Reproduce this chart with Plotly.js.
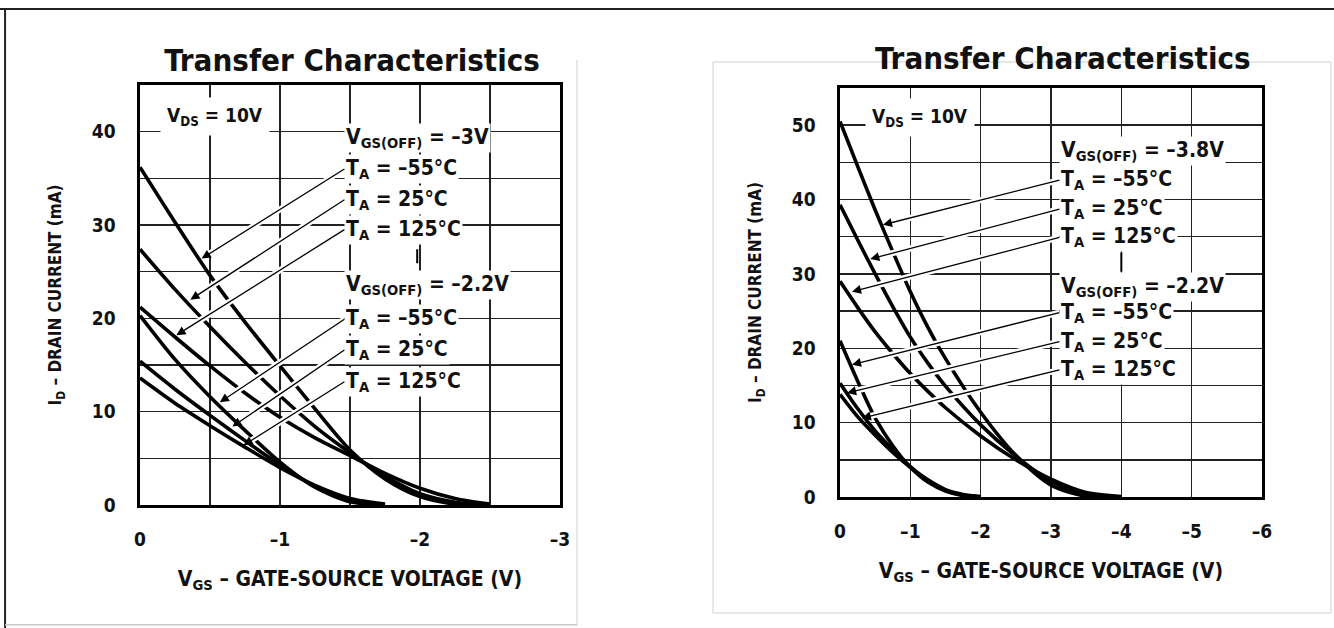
<!DOCTYPE html>
<html><head><meta charset="utf-8">
<script src="https://cdn.plot.ly/plotly-3.0.1.min.js"></script>
<style>html,body{margin:0;padding:0;background:#fff;} #chart{width:1334px;height:628px;}</style>
</head><body><div id="chart"></div>
<script>
// ---------- Left chart data (VGS in V, ID in mA) ----------
const vgsLeft3 = [0, -0.25, -0.5, -0.75, -1, -1.25, -1.5, -1.75, -2, -2.25, -2.5];
const idLeft3_m55 = [36.2, 30.3, 24.6, 19.6, 14.9, 10.3, 5.9, 2.8, 0.9, 0.1, 0];
const idLeft3_25  = [27.4, 23.1, 19.1, 15.3, 11.7, 8.4, 5.6, 3.1, 1.2, 0.3, 0];
const idLeft3_125 = [21.2, 18.0, 14.9, 12.0, 9.4, 7.2, 5.3, 3.4, 1.8, 0.7, 0.1];
const vgsLeft22 = [0, -0.25, -0.5, -0.75, -1, -1.25, -1.5, -1.75];
const idLeft22_m55 = [20.3, 15.6, 11.6, 8.0, 4.6, 1.9, 0.35, 0];
const idLeft22_25  = [15.4, 12.4, 9.6, 6.9, 4.3, 2.0, 0.5, 0.02];
const idLeft22_125 = [13.6, 10.9, 8.5, 6.2, 4.0, 2.1, 0.7, 0.1];

// ---------- Right chart data ----------
const vgsRight38 = [0, -0.25, -0.5, -0.75, -1, -1.25, -1.5, -2, -2.5, -3, -3.5, -4];
const idRight38_m55 = [50.5, 44.5, 38.6, 33.0, 27.6, 22.8, 18.6, 11.4, 5.6, 1.6, 0.1, 0];
const idRight38_25  = [39.3, 34.6, 30.0, 25.6, 21.5, 18.0, 14.9, 9.7, 5.5, 2.1, 0.3, 0];
const idRight38_125 = [29.0, 25.5, 22.2, 19.3, 16.6, 14.2, 12.0, 8.2, 5.0, 2.4, 0.6, 0.05];
const vgsRight22 = [0, -0.25, -0.5, -0.75, -1, -1.25, -1.5, -1.75, -2];
const idRight22_m55 = [21.0, 15.6, 10.6, 6.9, 4.0, 2.0, 0.8, 0.2, 0];
const idRight22_25  = [15.3, 11.9, 8.9, 6.4, 4.1, 2.2, 0.9, 0.25, 0];
const idRight22_125 = [13.8, 10.8, 8.3, 6.0, 4.0, 2.3, 1.0, 0.35, 0.05];

// ---------- Tick labels ----------
const leftXTickVals = [0, -1, -2, -3];
const leftXTickText = ['0', '–1', '–2', '–3'];
const rightXTickVals = [0, -1, -2, -3, -4, -5, -6];
const rightXTickText = ['0', '–1', '–2', '–3', '–4', '–5', '–6'];
const leftYTickVals = [0, 10, 20, 30, 40];
const leftYTickText = ['0', '10', '20', '30', '40'];
const rightYTickVals = [0, 10, 20, 30, 40, 50];
const rightYTickText = ['0', '10', '20', '30', '40', '50'];

const chartTitle = 'Transfer Characteristics';
const xTitle = 'V<sub>GS</sub> – GATE-SOURCE VOLTAGE (V)';
const yTitle = 'I<sub>D</sub> – DRAIN CURRENT (mA)';
const vdsLabel = 'V<sub>DS</sub> = 10V';
const tempLabels = ['T<sub>A</sub> = –55°C', 'T<sub>A</sub> = 25°C', 'T<sub>A</sub> = 125°C'];
const leftOffLabels = ['V<sub>GS(OFF)</sub> = –3V', 'V<sub>GS(OFF)</sub> = –2.2V'];
const rightOffLabels = ['V<sub>GS(OFF)</sub> = –3.8V', 'V<sub>GS(OFF)</sub> = –2.2V'];

const F = '"Liberation Sans Narrow", "DejaVu Sans Condensed", "Arial Narrow", sans-serif';
const INK = '#111';

function curve(x, y, xa, ya, name) {
  return {x: x, y: y, xaxis: xa, yaxis: ya, type: 'scatter', mode: 'lines', name: name,
    line: {color: '#000', width: 3.6, shape: 'spline', smoothing: 0.8}, hoverinfo: 'skip'};
}

const traces = [
  curve(vgsLeft3, idLeft3_m55, 'x', 'y', 'VGS(OFF)=-3V, TA=-55°C'),
  curve(vgsLeft3, idLeft3_25, 'x', 'y', 'VGS(OFF)=-3V, TA=25°C'),
  curve(vgsLeft3, idLeft3_125, 'x', 'y', 'VGS(OFF)=-3V, TA=125°C'),
  curve(vgsLeft22, idLeft22_m55, 'x', 'y', 'VGS(OFF)=-2.2V, TA=-55°C'),
  curve(vgsLeft22, idLeft22_25, 'x', 'y', 'VGS(OFF)=-2.2V, TA=25°C'),
  curve(vgsLeft22, idLeft22_125, 'x', 'y', 'VGS(OFF)=-2.2V, TA=125°C'),
  curve(vgsRight38, idRight38_m55, 'x2', 'y2', 'VGS(OFF)=-3.8V, TA=-55°C'),
  curve(vgsRight38, idRight38_25, 'x2', 'y2', 'VGS(OFF)=-3.8V, TA=25°C'),
  curve(vgsRight38, idRight38_125, 'x2', 'y2', 'VGS(OFF)=-3.8V, TA=125°C'),
  curve(vgsRight22, idRight22_m55, 'x2', 'y2', 'VGS(OFF)=-2.2V, TA=-55°C'),
  curve(vgsRight22, idRight22_25, 'x2', 'y2', 'VGS(OFF)=-2.2V, TA=25°C'),
  curve(vgsRight22, idRight22_125, 'x2', 'y2', 'VGS(OFF)=-2.2V, TA=125°C')
];

const gridStyle = {showgrid: true, gridcolor: '#222', gridwidth: 1.4};
function xAxis(domain, anchor, range, vals, text, minorStep) {
  return {domain: domain, anchor: anchor, range: range, tickvals: vals, ticktext: text,
    showgrid: true, gridcolor: '#222', gridwidth: 1.4, zeroline: false,
    minor: minorStep ? Object.assign({dtick: minorStep, tick0: 0, ticks: ''}, gridStyle) : undefined,
    showline: true, mirror: true, linecolor: '#000', linewidth: 2.6, ticks: '',
    ticklabelstandoff: 16, tickfont: {family: F, size: 19, color: INK, weight: 'bold'},
    title: {text: '<b>' + xTitle + '</b>', font: {family: F, size: 21, color: INK}, standoff: 22},
    fixedrange: true};
}
function yAxis(domain, anchor, range, vals, text) {
  return {domain: domain, anchor: anchor, range: range, tickvals: vals, ticktext: text,
    showgrid: true, gridcolor: '#222', gridwidth: 1.4, zeroline: false,
    minor: Object.assign({dtick: 5, tick0: 0, ticks: ''}, gridStyle),
    showline: true, mirror: true, linecolor: '#000', linewidth: 2.6, ticks: '',
    ticklabelstandoff: 18, tickfont: {family: F, size: 19, color: INK, weight: 'bold'},
    title: {text: '<b>' + yTitle + '</b>', font: {family: F, size: 17, color: INK}, standoff: 26},
    fixedrange: true};
}

// pixel scale of each subplot, used only to shorten the white halo under each arrow
const pxPer = {x: [140, 9.333], x2: [70.3, 7.42]};

const ann = [];
const shapes = [];
function label(xr, yr, x, y, text, size, pad) {
  ann.push({xref: xr, yref: yr, x: x, y: y, text: '<b>' + text + '</b>', showarrow: false,
    xanchor: 'left', yanchor: 'middle', bgcolor: '#fff', borderpad: pad || 1,
    font: {family: F, size: size || 21, color: INK}});
}
// label with an arrow from its left edge to a point on a curve
function arrowLabel(xr, yr, tx, ty, hx, hy, text) {
  const s = pxPer[xr];
  const dxp = (hx - tx) * s[0], dyp = (hy - ty) * s[1];
  const len = Math.sqrt(dxp * dxp + dyp * dyp);
  const f = 1 - 9 / len;
  shapes.push({type: 'line', xref: xr, yref: yr, layer: 'above', x0: tx, y0: ty,
    x1: tx + (hx - tx) * f, y1: ty + (hy - ty) * f, line: {color: '#fff', width: 6}});
  ann.push({xref: xr, yref: yr, axref: xr, ayref: yr, x: hx, y: hy, ax: tx, ay: ty,
    text: '<b>' + text + '</b>', showarrow: true, arrowhead: 2, arrowsize: 1.4, arrowwidth: 1.3,
    arrowcolor: '#000', standoff: 0, xanchor: 'left', yanchor: 'middle', bgcolor: '#fff', borderpad: 1,
    font: {family: F, size: 21, color: INK}});
}

// Left chart annotations
label('x', 'y', -0.14, 41.6, vdsLabel, 19, 6);
label('x', 'y', -1.46, 39.3, leftOffLabels[0]);
arrowLabel('x', 'y', -1.46, 36.0, -0.44, 26.4, tempLabels[0]);
arrowLabel('x', 'y', -1.46, 32.7, -0.36, 22.0, tempLabels[1]);
arrowLabel('x', 'y', -1.46, 29.5, -0.26, 18.2, tempLabels[2]);
label('x', 'y', -1.46, 23.6, leftOffLabels[1]);
arrowLabel('x', 'y', -1.46, 19.9, -0.57, 11.0, tempLabels[0]);
arrowLabel('x', 'y', -1.46, 16.6, -0.66, 8.4, tempLabels[1]);
arrowLabel('x', 'y', -1.46, 13.2, -0.74, 6.4, tempLabels[2]);

// Right chart annotations
label('x2', 'y2', -0.36, 51.0, vdsLabel, 19, 6);
label('x2', 'y2', -3.12, 46.5, rightOffLabels[0]);
arrowLabel('x2', 'y2', -3.12, 42.6, -0.61, 36.6, tempLabels[0]);
arrowLabel('x2', 'y2', -3.12, 38.7, -0.43, 32.0, tempLabels[1]);
arrowLabel('x2', 'y2', -3.12, 34.9, -0.17, 27.6, tempLabels[2]);
label('x2', 'y2', -3.12, 28.3, rightOffLabels[1]);
arrowLabel('x2', 'y2', -3.12, 24.8, -0.17, 17.8, tempLabels[0]);
arrowLabel('x2', 'y2', -3.12, 20.9, -0.10, 14.0, tempLabels[1]);
arrowLabel('x2', 'y2', -3.12, 17.1, -0.31, 10.6, tempLabels[2]);

// Right-chart title
ann.push({xref: 'paper', yref: 'paper', x: 0.7969, y: 0.9076, xanchor: 'center', yanchor: 'middle',
  text: '<b>' + chartTitle + '</b>', showarrow: false, font: {family: F, size: 31, color: INK}});

shapes.push(
  // page frame
  {type: 'line', xref: 'paper', yref: 'paper', x0: 0, x1: 1, y0: 0.9857, y1: 0.9857, line: {color: '#222', width: 2}},
  {type: 'line', xref: 'paper', yref: 'paper', x0: 0.0038, x1: 0.0038, y0: 0, y1: 0.9857, line: {color: '#222', width: 2}},
  // left panel edge
  {type: 'line', xref: 'paper', yref: 'paper', x0: 0.4325, x1: 0.4325, y0: 0.004, y1: 0.905, line: {color: '#d0d0d0', width: 1}},
  {type: 'line', xref: 'paper', yref: 'paper', x0: 0.0038, x1: 0.4325, y0: 0.005, y1: 0.005, line: {color: '#c8c8c8', width: 1.5}},
  // right panel box
  {type: 'rect', xref: 'paper', yref: 'paper', x0: 0.5345, x1: 0.9977, y0: 0.0239, y1: 0.9013, line: {color: '#d0d0d0', width: 1}, layer: 'below'},
  // small separator ticks between label groups
  {type: 'line', xref: 'x', yref: 'y', x0: -1.98, x1: -1.98, y0: 25.9, y1: 27.4, line: {color: '#000', width: 2}},
  {type: 'line', xref: 'x2', yref: 'y2', x0: -4.0, x1: -4.0, y0: 30.3, y1: 32.9, line: {color: '#000', width: 2}}
);

const layout = {
  width: 1334, height: 628, margin: {l: 0, r: 0, t: 0, b: 0},
  paper_bgcolor: '#fff', plot_bgcolor: '#fff', showlegend: false,
  title: {text: '<b>' + chartTitle + '</b>', x: 0.2639, xanchor: 'center', xref: 'paper',
    y: 0.9045, yanchor: 'middle', yref: 'paper', font: {family: F, size: 31, color: INK}},
  xaxis: xAxis([0.10495, 0.41979], 'y', [0, -3], leftXTickVals, leftXTickText, 0.5),
  yaxis: yAxis([0.19586, 0.86465], 'x', [0, 45], leftYTickVals, leftYTickText),
  xaxis2: xAxis([0.62969, 0.94603], 'y2', [0, -6], rightXTickVals, rightXTickText, null),
  yaxis2: yAxis([0.2086, 0.85987], 'x2', [0, 55], rightYTickVals, rightYTickText),
  annotations: ann,
  shapes: shapes
};

Plotly.newPlot('chart', traces, layout, {displayModeBar: false, staticPlot: true});
</script>
</body></html>
